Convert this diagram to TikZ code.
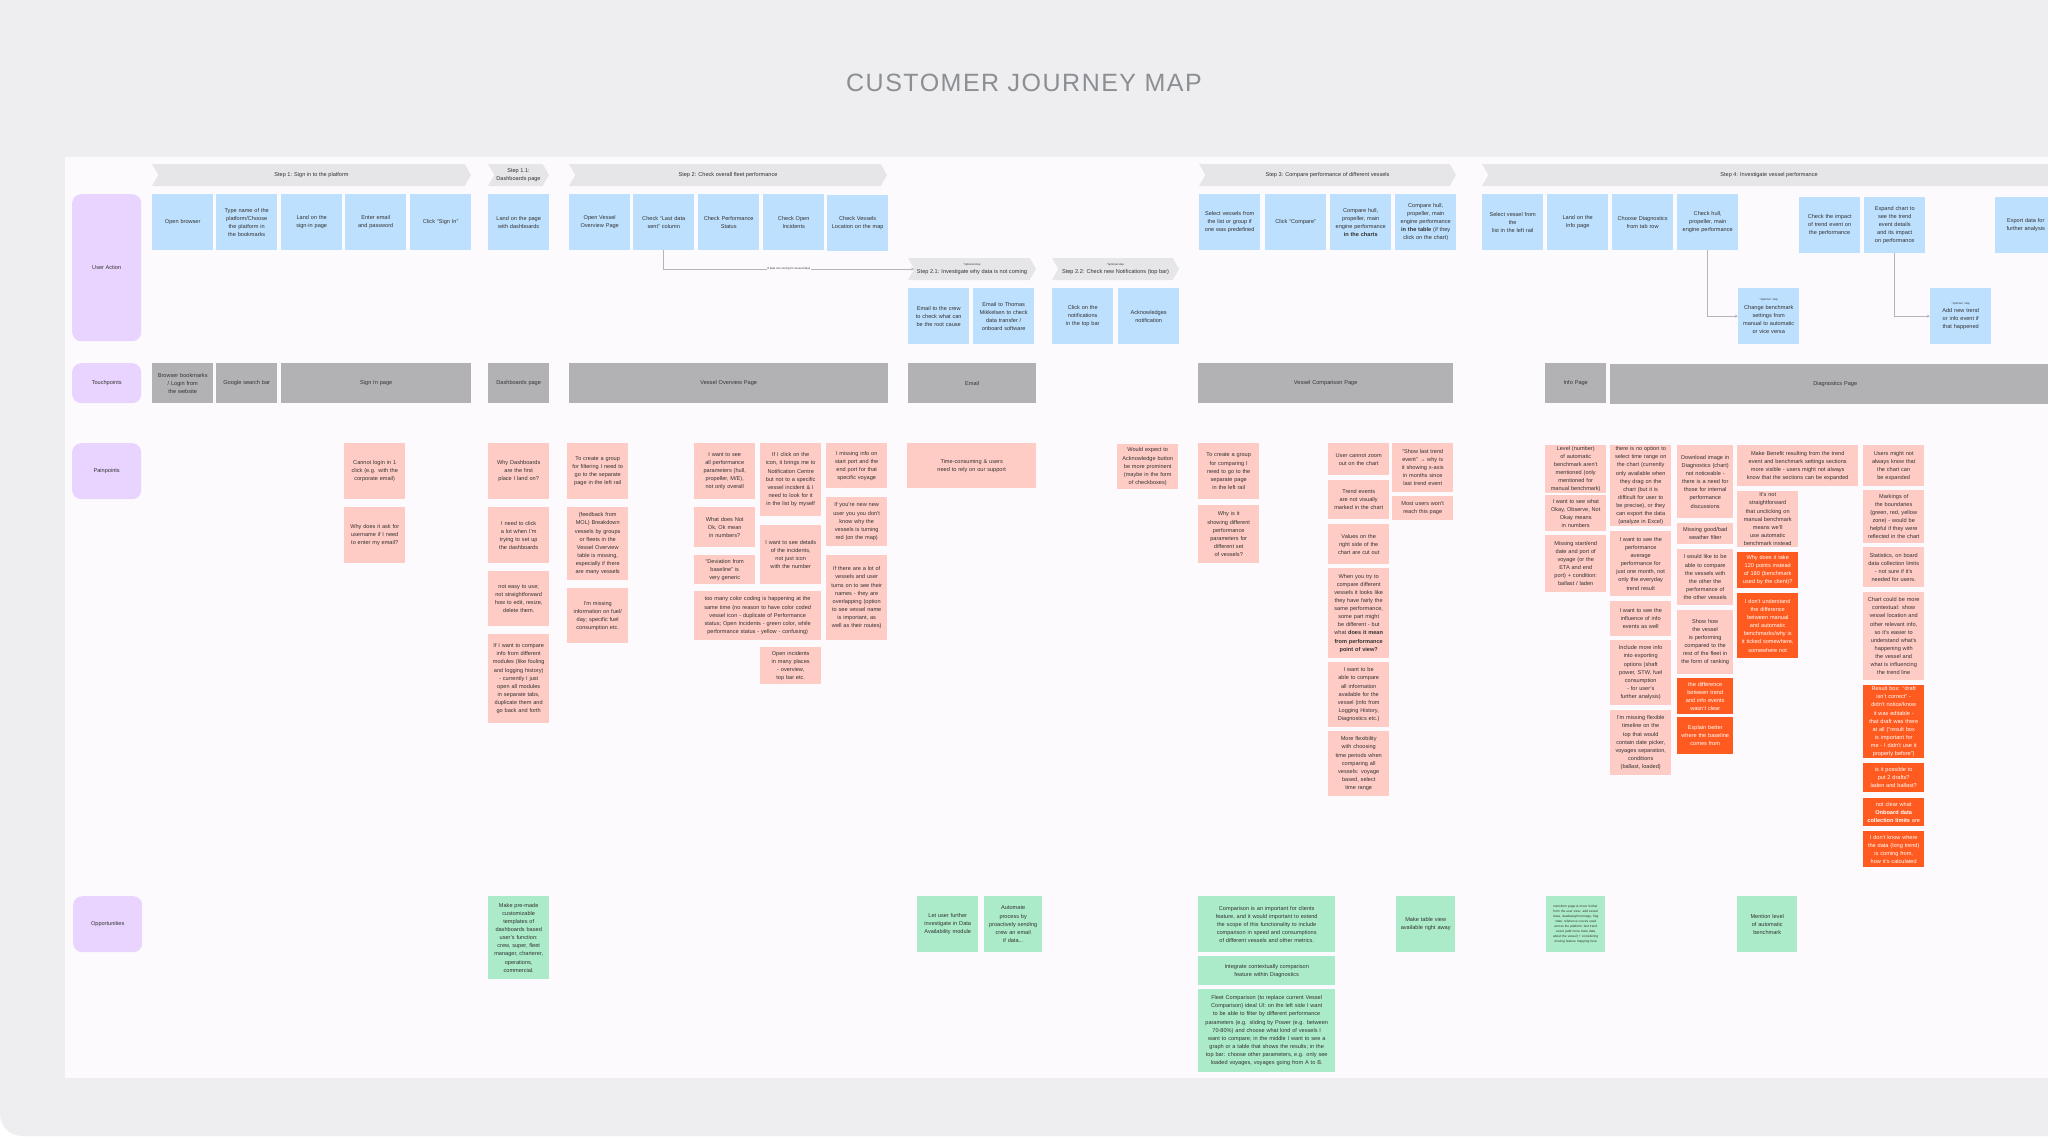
\documentclass[tikz,border=0pt]{standalone}
\usepackage{fontspec}
\setmainfont{Liberation Sans}
\newfontfamily\titlefont[LetterSpace=6]{Liberation Sans}
\usepackage{tikz}
\usetikzlibrary{arrows.meta,shapes.symbols}
\definecolor{outergray}{HTML}{EEEEF0}
\definecolor{boardbg}{HTML}{FCFAFD}
\definecolor{actblue}{HTML}{BDE0FE}
\definecolor{touchgray}{HTML}{B2B1B4}
\definecolor{painpink}{HTML}{FFCCC5}
\definecolor{hotorange}{HTML}{FF5A1F}
\definecolor{oppgreen}{HTML}{ACEBCA}
\definecolor{lanepurple}{HTML}{E8D4FE}
\definecolor{stepgray}{HTML}{E6E5E8}
\definecolor{inkgray}{HTML}{333333}
\definecolor{linegray}{HTML}{B5B5B8}
\definecolor{titlegray}{HTML}{8B8E93}
\hyphenpenalty=10000
\exhyphenpenalty=10000
\newcommand{\cardfont}{\fontsize{5.6}{8.1}\selectfont}
\newcommand{\tinyfont}{\fontsize{2.8}{3.6}\selectfont}
\newcommand{\microfont}{\fontsize{3.2}{5}\selectfont}
\tikzset{card/.style={rectangle,anchor=north west,inner sep=1pt,minimum width=61,
  minimum height=56,text width=52pt,align=center,font=\cardfont,text=inkgray},
  act/.style={card,fill=actblue}, touch/.style={card,fill=touchgray,minimum height=40},
  pain/.style={card,fill=painpink}, hot/.style={card,fill=hotorange,text=white},
  opp/.style={card,fill=oppgreen},
  lane/.style={rectangle,rounded corners=9pt,anchor=north west,fill=lanepurple,
  minimum width=69,font=\cardfont,text=inkgray},
  stepbar/.style={signal,signal from=west,signal to=east,signal pointer angle=120,
  fill=stepgray,minimum height=22,inner sep=1pt,font=\cardfont,text=inkgray,align=center},
  conn/.style={draw=linegray,line width=0.6pt,-{Stealth[length=3pt,width=3pt]}},
  clabel/.style={font=\tinyfont,fill=boardbg,inner sep=1pt,text=inkgray}}

\begin{document}
\begin{tikzpicture}[x=1pt,y=-1pt]
 \useasboundingbox (0,0) rectangle (2048,1143);
 \fill[white] (0,0) rectangle (2048,1143);
 \fill[outergray,rounded corners=22pt] (0,-40) rectangle (2100,1136);
 \fill[boardbg] (65,157) rectangle (2048,1078);
 \node[font=\titlefont\fontsize{25}{30}\selectfont,text=titlegray] (title) at (1024,83) {CUSTOMER JOURNEY MAP};
 % lanes
 \node[lane,minimum height=147] (lact) at (72,194) {User Action};
 \node[lane,minimum height=40] (ltouch) at (72,363) {Touchpoints};
 \node[lane,minimum height=56] (lpain) at (72,443) {Painpoints};
 \node[lane,minimum height=56] (lopp) at (73,896) {Opportunities};
 % steps
 \node[stepbar,minimum width=319] (s1) at (311.5,175) {Step 1: Sign in to the platform};
 \node[stepbar,minimum width=61] (s11) at (518.5,175) {Step 1.1:\\Dashboards page};
 \node[stepbar,minimum width=318] (s2) at (728,175) {Step 2: Check overall fleet performance};
 \node[stepbar,minimum width=128] (s21) at (972,269) {{\tinyfont *optional step}\\Step 2.1: Investigate why data is not coming};
 \node[stepbar,minimum width=127] (s22) at (1115.5,269) {{\tinyfont *optional step}\\Step 2.2: Check new Notifications (top bar)};
 \node[stepbar,minimum width=257] (s3) at (1327.5,175) {Step 3: Compare performance of different vessels};
 \node[stepbar,minimum width=574] (s4) at (1769,175) {Step 4: Investigate vessel performance};
 % user actions
 \node[act] (u1) at (152,194) {Open browser};
 \node[act] (u2) at (216,194) {Type name of the platform/Choose the platform in the bookmarks};
 \node[act] (u3) at (281,194) {Land on the sign-in page};
 \node[act] (u4) at (345,194) {Enter email and password};
 \node[act] (u5) at (410,194) {Click ``Sign In''};
 \node[act] (u6) at (488,194) {Land on the page with dashboards};
 \node[act] (u7) at (569,194) {Open Vessel Overview Page};
 \node[act] (u8) at (633,194) {Check ``Last data sent'' column};
 \node[act] (u9) at (698,194) {Check Performance Status};
 \node[act] (u10) at (763,194) {Check Open Incidents};
 \node[act] (u11) at (827,195) {Check Vessels Location on the map};
 \node[act] (u12) at (908,288) {Email to the crew to check what can be the root cause};
 \node[act] (u13) at (973,288) {Email to Thomas Mikkelsen to check data transfer / onboard software};
 \node[act] (u14) at (1052,288) {Click on the notifications in the top bar};
 \node[act] (u15) at (1118,288) {Acknowledges notification};
 \node[act] (u16) at (1199,194) {Select vessels from the list or group if one was predefined};
 \node[act] (u17) at (1265,194) {Click ``Compare''};
 \node[act] (u18) at (1330,194) {Compare hull, propeller, main engine performance \textbf{in the charts}};
 \node[act] (u19) at (1395,194) {Compare hull, propeller, main engine performance \textbf{in the table} (if they click on the chart)};
 \node[act] (u20) at (1482,194) {Select vessel from\\the\\list in the left rail};
 \node[act] (u21) at (1547,194) {Land on the Info page};
 \node[act] (u22) at (1612,194) {Choose Diagnostics from tab row};
 \node[act] (u23) at (1677,194) {Check hull, propeller, main engine performance};
 \node[act] (u24) at (1738,288) {{\tinyfont *optional step}\\Change benchmark settings from manual to automatic or vice versa};
 \node[act] (u25) at (1799,197) {Check the impact of trend event on the performance};
 \node[act] (u26) at (1864,197) {Expand chart to see the trend event details and its impact on performance};
 \node[act] (u27) at (1930,288) {{\tinyfont *optional step}\\Add new trend or info event if that happened};
 \node[act] (u28) at (1995,197) {Export data for further analysis};
 \draw[conn] (u8.south) |- node[clabel,pos=0.75] {If data not coming for several days} (s21.west);
 \draw[conn] (u23.south) |- (u24.west);
 \draw[conn] (u26.south) |- (u27.west);
 % touchpoints
 \node[touch] (t1) at (152,363) {Browser bookmarks / Login from the website};
 \node[touch] (t2) at (216,363) {Google search bar};
 \node[touch,minimum width=190,text width=180pt] (t3) at (281,363) {Sign In page};
 \node[touch] (t4) at (488,363) {Dashboards page};
 \node[touch,minimum width=319,text width=300pt] (t5) at (569,363) {Vessel Overview Page};
 \node[touch,minimum width=128,text width=118pt] (t6) at (908,363) {Email};
 \node[touch,minimum width=255,text width=240pt] (t7) at (1198,363) {Vessel Comparison Page};
 \node[touch] (t8) at (1545,363) {Info Page};
 \node[touch,minimum width=450,text width=320pt] (t9) at (1610,364) {Diagnostics Page};
 % painpoints
 \node[pain] (p1) at (344,443) {Cannot login in 1 click (e.g. with the corporate email)};
 \node[pain] (p2) at (344,507) {Why does it ask for username if I need to enter my email?};
 \node[pain] (p3) at (488,443) {Why Dashboards are the first place I land on?};
 \node[pain] (p4) at (488,507) {I need to click a lot when I'm trying to set up the dashboards};
 \node[pain,minimum height=55] (p5) at (488,571) {not easy to use; not straightforward how to edit, resize, delete them.};
 \node[pain,minimum height=89] (p6) at (488,634) {If I want to compare info from different modules (like fouling and logging history) - currently I just open all modules in separate tabs, duplicate them and go back and forth};
 \node[pain] (p7) at (567,443) {To create a group for filtering I need to go to the separate page in the left rail};
 \node[pain,minimum height=73] (p8) at (567,507) {(feedback from MOL) Breakdown vessels by groups or fleets in the Vessel Overview table is missing, especially if there are many vessels};
 \node[pain,minimum height=55] (p9) at (567,588) {I'm missing information on fuel/ day; specific fuel consumption etc.};
 \node[pain] (p10) at (694,443) {I want to see all performance parameters (hull, propeller, M/E), not only overall};
 \node[pain,minimum height=40] (p11) at (694,507) {What does Not Ok, Ok mean in numbers?};
 \node[pain,minimum height=29] (p12) at (694,555) {``Deviation from baseline'' is very generic};
 \node[pain,minimum width=127,text width=118pt,minimum height=49] (p13) at (694,591) {too many color coding is happening at the same time (no reason to have color coded vessel icon - duplicate of Performance status; Open Incidents - green color, while performance status - yellow - confusing)};
 \node[pain,minimum height=73] (p14) at (760,443) {If I click on the icon, it brings me to Notification Centre but not to a specific vessel incident \& I need to look for it in the list by myself};
 \node[pain,minimum height=59] (p15) at (760,525) {I want to see details of the incidents, not just icon with the number};
 \node[pain,minimum height=37] (p16) at (760,647) {Open incidents in many places - overview, top bar etc.};
 \node[pain,minimum height=45] (p17) at (826,443) {I missing info on start port and the end port for that specific voyage};
 \node[pain,minimum height=49] (p18) at (826,497) {If you're new new user you you don't know why the vessels is turning red (on the map)};
 \node[pain,minimum height=85] (p19) at (826,555) {If there are a lot of vessels and user turns on to see their names - they are overlapping (option to see vessel name is important, as well as their routes)};
 \node[pain,minimum width=129,text width=120pt,minimum height=45] (p20) at (907,443) {Time-consuming \& users need to rely on our support};
 \node[pain,minimum height=45] (p21) at (1117,444) {Would expect to Acknowledge button be more prominent (maybe in the form of checkboxes)};
 \node[pain] (p22) at (1198,443) {To create a group for comparing I need to go to the separate page in the left rail};
 \node[pain,minimum height=58] (p23) at (1198,505) {Why is it showing different performance parameters for different set of vessels?};
 \node[pain,minimum height=32] (p24) at (1328,443) {User cannot zoom out on the chart};
 \node[pain,minimum height=39] (p25) at (1328,480) {Trend events are not visually marked in the chart};
 \node[pain,minimum height=40] (p26) at (1328,524) {Values on the right side of the chart are cut out};
 \node[pain,minimum height=90] (p27) at (1328,568) {When you try to compare different vessels it looks like they have fairly the same performance, some part might be different - but what \textbf{does it mean from performance point of view?}};
 \node[pain,minimum height=65] (p28) at (1328,662) {I want to be able to compare all information available for the vessel (info from Logging History, Diagnostics etc.)};
 \node[pain,minimum height=65] (p29) at (1328,731) {More flexibility with choosing time periods when comparing all vessels: voyage based, select time range};
 \node[pain,minimum height=49] (p30) at (1392,443) {``Show last trend event'' → why is it showing x-axis in months since last trend event};
 \node[pain,minimum height=24] (p31) at (1392,496) {Most users won't reach this page};
 \node[pain,minimum height=46] (p32) at (1545,445) {Level (number) of automatic benchmark aren't mentioned (only mentioned for manual benchmark)};
 \node[pain,minimum height=36] (p33) at (1545,495) {I want to see what Okay, Observe, Not Okay means in numbers};
 \node[pain,minimum height=57] (p34) at (1545,535) {Missing start/end date and port of voyage (or the ETA and end port) + condition: ballast / laden};
 \node[pain,minimum height=81] (p35) at (1610,445) {there is no option to select time range on the chart (currently only available when they drag on the chart (but it is difficult for user to be precise), or they can export the data (analyze in Excel)};
 \node[pain,minimum height=65] (p36) at (1610,531) {I want to see the performance average performance for just one month, not only the everyday trend result};
 \node[pain,minimum height=35] (p37) at (1610,601) {I want to see the influence of info events as well};
 \node[pain,minimum height=65] (p38) at (1610,640) {Include more info into exporting options (shaft power, STW, fuel consumption - for user's further analysis)};
 \node[pain,minimum height=65] (p39) at (1610,710) {I'm missing flexible timeline on the top that would contain date picker, voyages separation, conditions (ballast, loaded)};
 \node[pain,minimum width=56,text width=50pt,minimum height=73] (p40) at (1677,445) {Download image in Diagnostics (chart) not noticeable - there is a need for those for internal performance discussions};
 \node[pain,minimum width=56,text width=50pt,minimum height=21] (p41) at (1677,523) {Missing good/bad weather filter};
 \node[pain,minimum width=56,text width=50pt,minimum height=56] (p42) at (1677,549) {I would like to be able to compare the vessels with the other the performance of the other vessels};
 \node[pain,minimum width=56,text width=50pt,minimum height=64] (p43) at (1677,610) {Show how the vessel is performing compared to the rest of the fleet in the form of ranking};
 \node[hot,minimum width=56,text width=50pt,minimum height=36] (h1) at (1677,678) {the difference between trend and info events wasn't clear};
 \node[hot,minimum width=56,text width=50pt,minimum height=37] (h2) at (1677,717) {Explain better where the baseline comes from};
 \node[pain,minimum width=121,text width=112pt,minimum height=41] (p44) at (1737,445) {Make Benefit resulting from the trend event and benchmark settings sections more visible - users might not always know that the sections can be expanded};
 \node[pain] (p45) at (1737,491) {It's not straightforward that unclicking on manual benchmark means we'll use automatic benchmark instead};
 \node[hot,minimum height=36] (h3) at (1737,552) {Why does it take 120 points instead of 180 (benchmark used by the client)?};
 \node[hot,minimum height=65] (h4) at (1737,593) {I don't understand the difference between manual and automatic benchmarks/why is it ticked somewhere, somewhere not};
 \node[pain,minimum height=41] (p46) at (1863,445) {Users might not always know that the chart can be expanded};
 \node[pain,minimum height=53] (p47) at (1863,490) {Markings of the boundaries (green, red, yellow zone) - would be helpful if they were reflected in the chart};
 \node[pain,minimum height=40] (p48) at (1863,547) {Statistics, on board data collection limits - not sure if it's needed for users.};
 \node[pain,minimum height=88] (p49) at (1863,592) {Chart could be more contextual: show vessel location and other relevant info, so it's easier to understand what's happening with the vessel and what is influencing the trend line};
 \node[hot,minimum height=73] (h5) at (1863,685) {Result box: ``draft isn't correct'' - didn't notice/know it was editable - that draft was there at all (``result box is important for me - I didn't use it properly before'')};
 \node[hot,minimum height=29] (h6) at (1863,763) {is it possible to put 2 drafts? laden and ballast?};
 \node[hot,minimum height=28,text width=58pt] (h7) at (1863,798) {not clear what\\\textbf{Onboard data}\\\textbf{collection limits} are};
 \node[hot,minimum height=36] (h8) at (1863,831) {I don't know where the data (long trend) is coming from, how it's calculated};
 % opportunities
 \node[opp,minimum height=83] (o1) at (488,896) {Make pre-made customizable templates of dashboards based user's function: crew, super, fleet manager, charterer, operations, commercial.};
 \node[opp] (o2) at (917,896) {Let user further investigate in Data Availability module};
 \node[opp,minimum width=58,text width=51pt] (o3) at (984,896) {Automate process by proactively sending\\crew an email if data...};
 \node[opp,minimum width=137,text width=128pt] (o4) at (1198,896) {Comparison is an important for clients feature, and it would important to extend the scope of this functionality to include comparison in speed and consumptions of different vessels and other metrics.};
 \node[opp,minimum width=137,text width=128pt,minimum height=29] (o5) at (1198,956) {Integrate contextually comparison feature within Diagnostics};
 \node[opp,minimum width=137,text width=128pt,minimum height=83] (o6) at (1198,989) {Fleet Comparison (to replace current Vessel Comparison) ideal UI: on the left side I want to be able to filter by different performance parameters (e.g. sliding by Power (e.g. between 70-80\%) and choose what kind of vessels I want to compare; in the middle I want to see a graph or a table that shows the results; in the top bar: choose other parameters, e.g. only see loaded voyages, voyages going from A to B.};
 \node[opp,minimum width=59,text width=52pt] (o7) at (1396,896) {Make table view available right away};
 \node[opp,minimum width=59,text width=54pt,font=\microfont] (o8) at (1546,896) {transform page \& move further from the user view: add vessel class, deadweight tonnage, flag state, reference curves used across the platform; last trend event (add more meta data about the vessel) + considering moving feature mapping here};
 \node[opp,minimum width=60] (o9) at (1737,896) {Mention level of automatic benchmark};
\end{tikzpicture}
\end{document}
